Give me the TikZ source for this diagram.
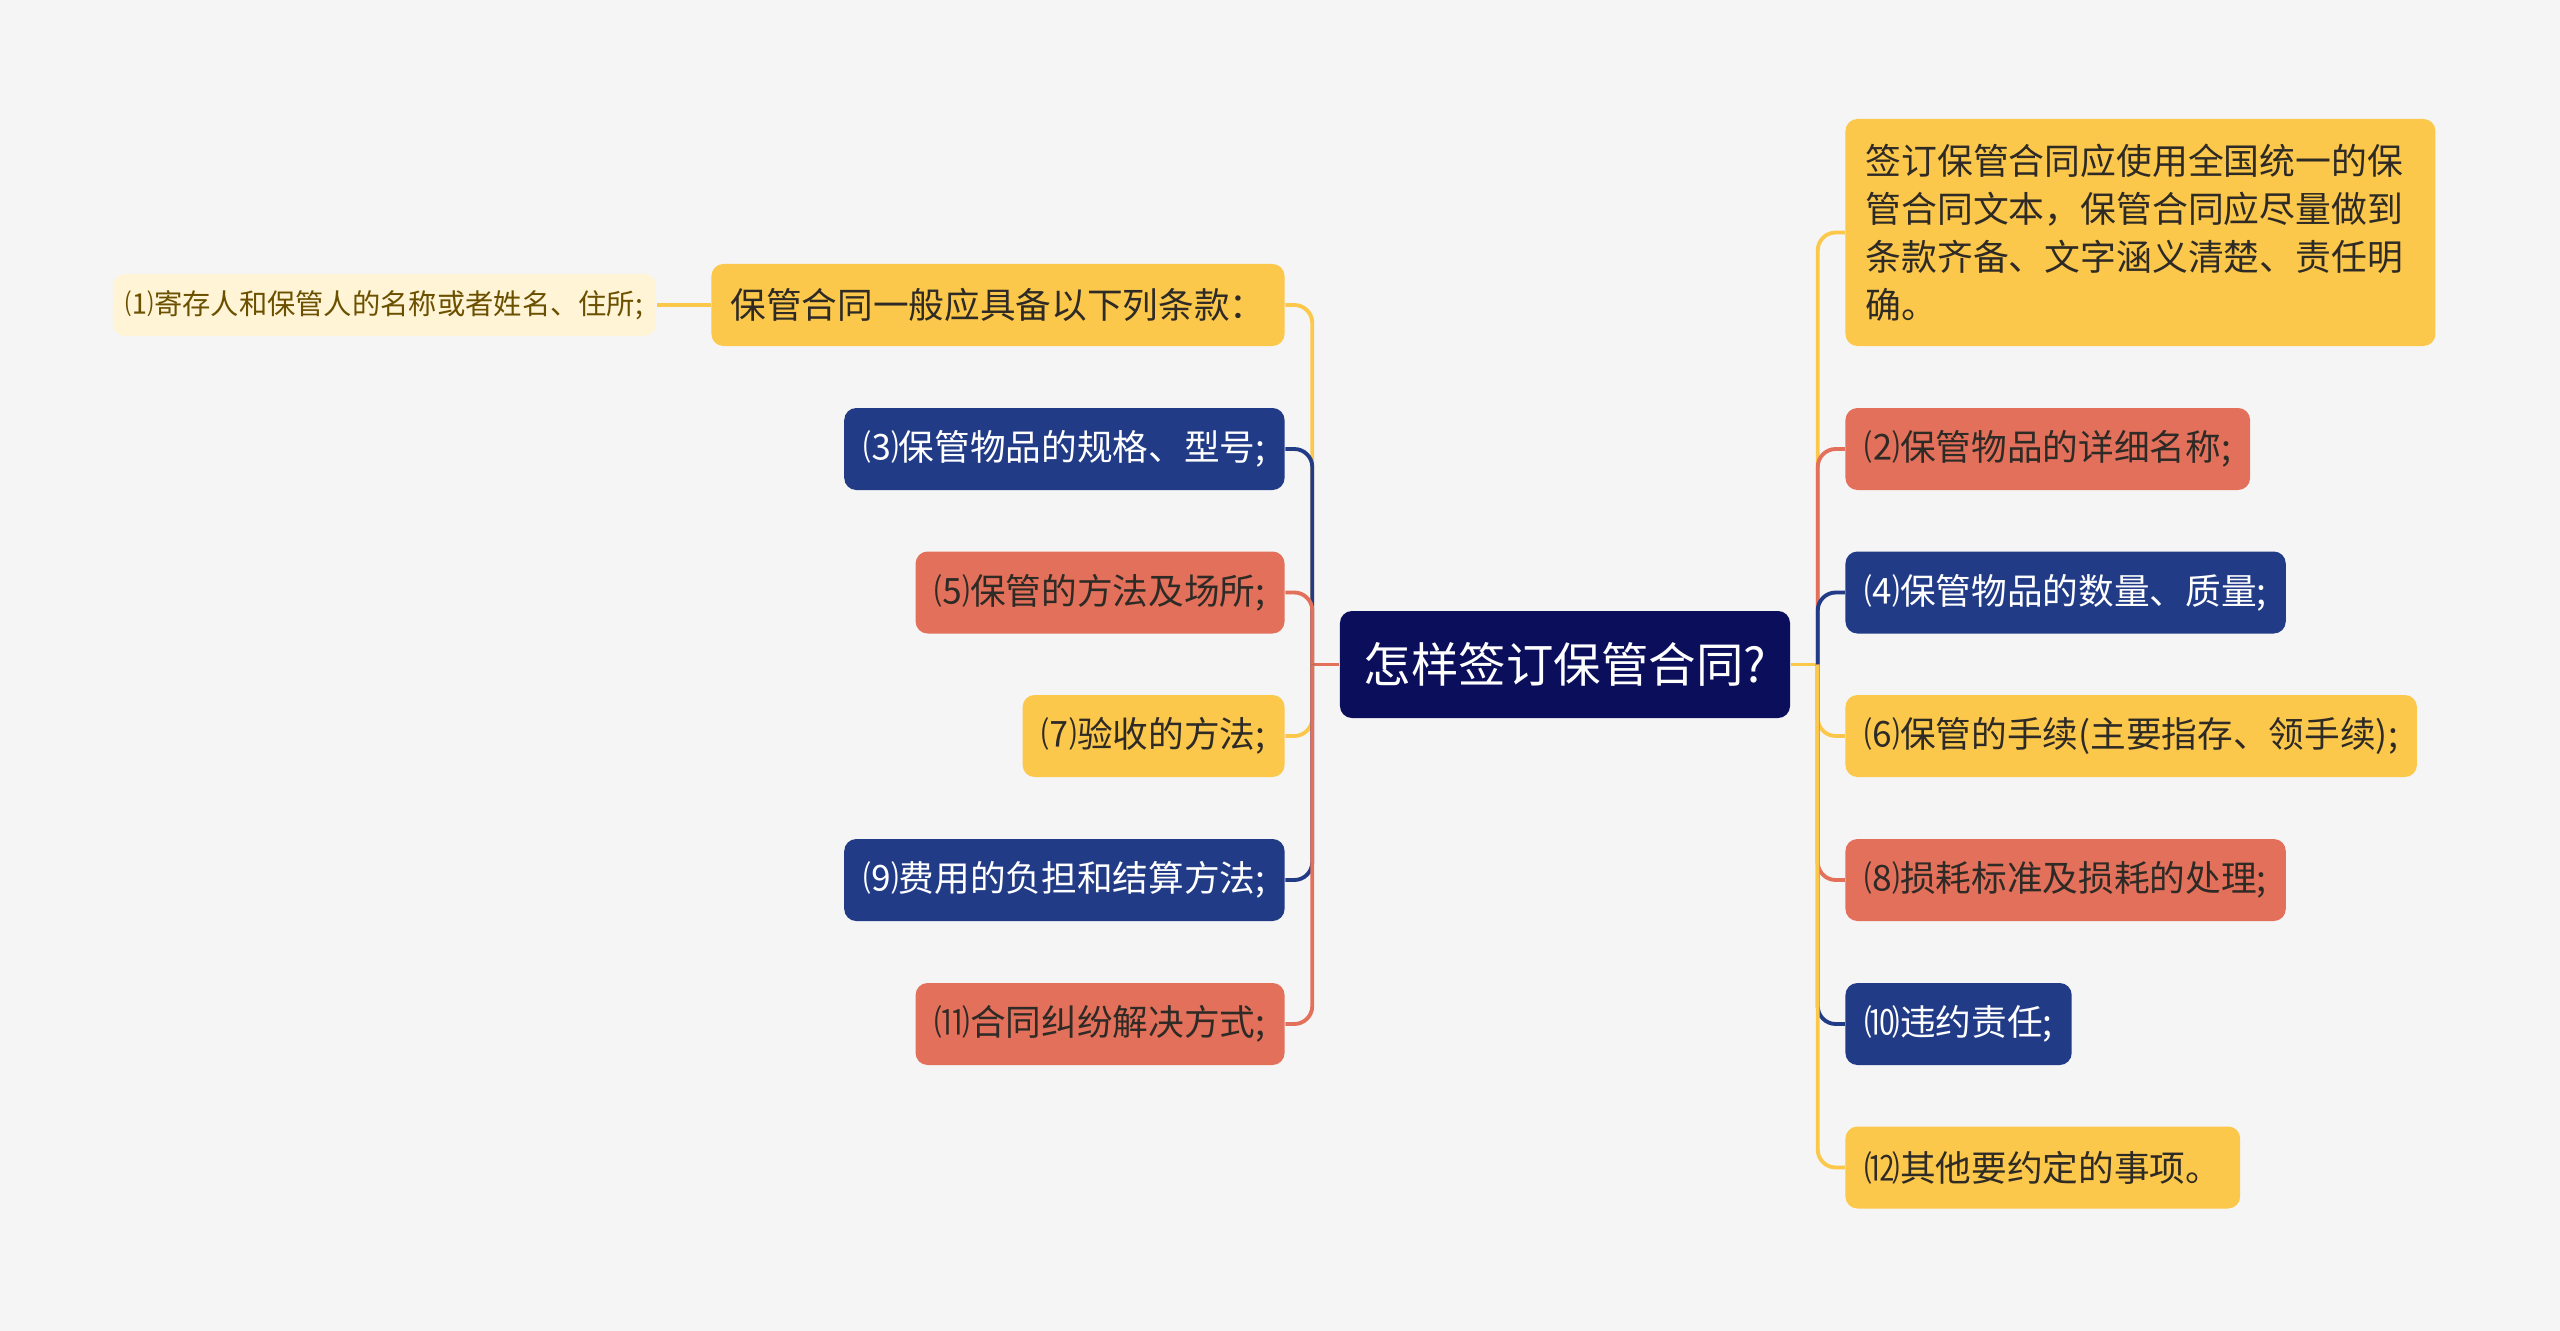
\documentclass[tikz,border=0pt]{standalone}
\usepackage{fontspec}
\setmainfont{Noto Sans CJK SC}
\usepackage{tikz}
\usetikzlibrary{positioning}
\usepackage{xcolor}

\definecolor{bgcol}{HTML}{F5F5F5}
\definecolor{navy}{HTML}{0B0F5B}
\definecolor{mapblue}{HTML}{213B87}
\definecolor{mapred}{HTML}{E2705A}
\definecolor{mapyellow}{HTML}{FCC84B}
\definecolor{paleyellow}{HTML}{FFF4D6}
\definecolor{inkdark}{HTML}{2E2A26}
\definecolor{inkbrown}{HTML}{6B5000}

\begin{document}
\begin{tikzpicture}[
    node distance=5.4mm,
    topic/.style={rounded corners=1.2mm, minimum height=8.2mm, inner xsep=1.9mm,
                inner ysep=0pt, font=\fontsize{10.15}{12}\selectfont},
    yellowtopic/.style={topic, fill=mapyellow, text=inkdark},
    redtopic/.style={topic, fill=mapred, text=inkdark},
    bluetopic/.style={topic, fill=mapblue, text=white},
    mainidea/.style={rounded corners=1.2mm, fill=navy, text=white, minimum height=10.7mm,
                inner xsep=2.4mm, font=\fontsize{13.5}{16}\selectfont},
    leafnote/.style={rounded corners=1.2mm, fill=paleyellow, text=inkbrown, minimum height=6.2mm,
                inner xsep=1.3mm, inner ysep=0pt, font=\fontsize{8.05}{10}\selectfont},
    conn/.style={line width=1.1pt, rounded corners=1.8mm}
]

\path[fill=bgcol] (0,0) rectangle (25.6,-13.31);
\useasboundingbox (0,0) rectangle (25.6,-13.31);

\node[mainidea] (root) at (15.65,-6.645) {怎样签订保管合同?};

% right side
\node[yellowtopic, right=of root, yshift=43.2mm, text width=5.5cm, align=left,
      minimum height=22.7mm, inner xsep=2.0mm, font=\fontsize{10.2}{13.6}\selectfont] (wenben)
  {签订保管合同应使用全国统一的保\\管合同文本，保管合同应尽量做到\\条款齐备、文字涵义清楚、责任明\\确。};
\node[redtopic, right=of root, yshift=21.55mm] (r2) {⑵保管物品的详细名称;};
\node[bluetopic, right=of root, yshift=7.2mm] (r4) {⑷保管物品的数量、质量;};
\node[yellowtopic, right=of root, yshift=-7.15mm] (r6) {⑹保管的手续(主要指存、领手续);};
\node[redtopic, right=of root, yshift=-21.55mm] (r8) {⑻损耗标准及损耗的处理;};
\node[bluetopic, right=of root, yshift=-35.95mm] (r10) {⑽违约责任;};
\node[yellowtopic, right=of root, yshift=-50.3mm] (r12) {⑿其他要约定的事项。};

% left side
\node[yellowtopic, left=of root, yshift=35.95mm] (tiaokuan) {保管合同一般应具备以下列条款：};
\node[leafnote, left=of tiaokuan] (l1) {⑴寄存人和保管人的名称或者姓名、住所;};
\node[bluetopic, left=of root, yshift=21.55mm] (l3) {⑶保管物品的规格、型号;};
\node[redtopic, left=of root, yshift=7.2mm] (l5) {⑸保管的方法及场所;};
\node[yellowtopic, left=of root, yshift=-7.15mm] (l7) {⑺验收的方法;};
\node[bluetopic, left=of root, yshift=-21.55mm] (l9) {⑼费用的负担和结算方法;};
\node[redtopic, left=of root, yshift=-35.95mm] (l11) {⑾合同纠纷解决方式;};

\coordinate (rtrunk) at ([xshift=2.7mm]root.east);
\coordinate (ltrunk) at ([xshift=-2.7mm]root.west);

\draw[conn, mapyellow] (root.east) -- (rtrunk);
\draw[conn, mapyellow] (rtrunk) |- (wenben.west);
\draw[conn, mapred] (rtrunk) |- (r2.west);
\draw[conn, mapblue] (rtrunk) |- (r4.west);
\draw[conn, mapyellow] (rtrunk) |- (r6.west);
\draw[conn, mapred] (rtrunk) |- (r8.west);
\draw[conn, mapblue] (rtrunk) |- (r10.west);
\draw[conn, mapyellow] (rtrunk) |- (r12.west);

\draw[conn, mapred] (root.west) -- (ltrunk);
\draw[conn, mapyellow] (ltrunk) |- (tiaokuan.east);
\draw[conn, mapblue] (ltrunk) |- (l3.east);
\draw[conn, mapred] (ltrunk) |- (l5.east);
\draw[conn, mapyellow] (ltrunk) |- (l7.east);
\draw[conn, mapblue] (ltrunk) |- (l9.east);
\draw[conn, mapred] (ltrunk) |- (l11.east);

\draw[conn, mapyellow] (tiaokuan.west) -- (l1.east);

\end{tikzpicture}
\end{document}
